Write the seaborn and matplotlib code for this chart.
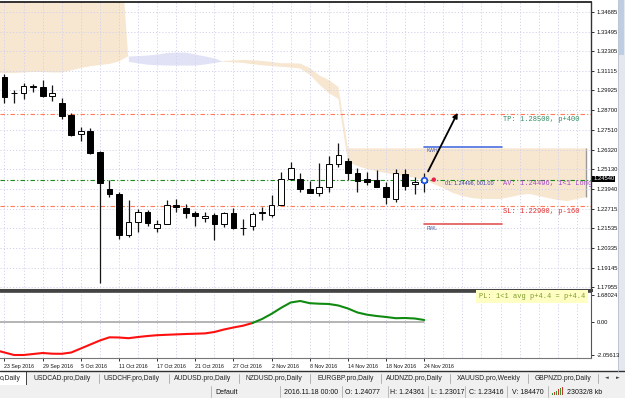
import numpy as np
import pandas as pd
import matplotlib.pyplot as plt
import matplotlib.transforms as mtransforms
from matplotlib.patches import Rectangle
import seaborn as sns

# GBPUSD daily candles, bar 0 = 23 Sep 2016, last bar = 24 Nov 2016
opens = [1.3075, 1.2974, 1.2974, 1.3015, 1.3015, 1.2960, 1.2914, 1.2843, 1.2725, 1.2745,
         1.2616, 1.2393, 1.2363, 1.2113, 1.2191, 1.2255, 1.2154, 1.2178, 1.2296, 1.2279,
         1.2249, 1.2215, 1.2235, 1.2178, 1.2245, 1.2157, 1.2170, 1.2247, 1.2235, 1.2296,
         1.2454, 1.2452, 1.2391, 1.2370, 1.2403, 1.2545, 1.2565, 1.2488, 1.2452, 1.2448,
         1.24077, 1.2332, 1.2484, 1.2421, 1.2437]
highs = [1.3092, 1.2995, 1.3037, 1.3029, 1.3055, 1.3025, 1.2948, 1.2857, 1.2771, 1.2762,
         1.2624, 1.2448, 1.2376, 1.2326, 1.2271, 1.2265, 1.2205, 1.2326, 1.2332, 1.2300,
         1.2261, 1.2251, 1.2249, 1.2255, 1.2276, 1.2209, 1.2255, 1.2285, 1.2356, 1.2498,
         1.2559, 1.2488, 1.2443, 1.2549, 1.2593, 1.2671, 1.2579, 1.2519, 1.2498, 1.2508,
         1.24361, 1.2513, 1.2513, 1.2468, 1.2488]
lows = [1.2917, 1.2917, 1.2938, 1.2984, 1.2954, 1.2929, 1.2818, 1.2717, 1.2686, 1.2604,
        1.1823, 1.2346, 1.2087, 1.2103, 1.2130, 1.2168, 1.2133, 1.2178, 1.2255, 1.2215,
        1.2168, 1.2194, 1.2083, 1.2160, 1.2148, 1.2113, 1.2144, 1.2205, 1.2221, 1.2296,
        1.2448, 1.2376, 1.2367, 1.2352, 1.2376, 1.2525, 1.2448, 1.2376, 1.2417, 1.2407,
        1.23017, 1.2312, 1.2387, 1.2362, 1.2376]
closes = [1.2954, 1.2976, 1.3021, 1.3019, 1.2960, 1.2974, 1.2838, 1.2721, 1.2745, 1.2613,
          1.2428, 1.2361, 1.2113, 1.2194, 1.2251, 1.2184, 1.2178, 1.2296, 1.2282, 1.2249,
          1.2231, 1.2231, 1.2178, 1.2245, 1.2154, 1.2154, 1.2241, 1.2251, 1.2296, 1.2454,
          1.2519, 1.2391, 1.2370, 1.2403, 1.2545, 1.2600, 1.2488, 1.2443, 1.2437, 1.2407,
          1.23416, 1.2488, 1.2413, 1.2437, 1.2454]

date_labels = ["23 Sep 2016", "29 Sep 2016", "5 Oct 2016", "11 Oct 2016", "17 Oct 2016",
               "21 Oct 2016", "27 Oct 2016", "2 Nov 2016", "8 Nov 2016", "14 Nov 2016",
               "18 Nov 2016", "24 Nov 2016"]
price_ticks = [1.34685, 1.33495, 1.32305, 1.31115, 1.29925, 1.28700, 1.27510, 1.26320,
               1.25130, 1.23940, 1.22715, 1.21535, 1.20335, 1.19145, 1.17955]

# cloud spans, one value per bar from -1 to 61
span_a = ([1.40] * 14 +
          [1.3168, 1.3159, 1.3151, 1.3148, 1.3146, 1.3146, 1.3146, 1.3146, 1.3153, 1.3162] +
          [1.3171, 1.3174, 1.3177, 1.3175, 1.3171, 1.3165, 1.3157, 1.3157, 1.3155, 1.3128,
           1.3083, 1.3055, 1.3013] +
          [1.2640] * 26)
span_b = ([1.3098, 1.3098, 1.3098, 1.3101, 1.3104, 1.3104, 1.3101, 1.3101, 1.3114, 1.3128,
           1.3139, 1.3146, 1.3153, 1.3168] +
          [1.3201, 1.3204, 1.3207, 1.3213, 1.3222, 1.3225, 1.3224, 1.3213, 1.3201, 1.3189] +
          [1.3166, 1.3163, 1.3159, 1.3151, 1.3145, 1.3140, 1.3136, 1.3131, 1.3125, 1.3088,
           1.3028, 1.2976, 1.2940] +
          [1.2557, 1.2533, 1.2514, 1.2502, 1.2490, 1.2478, 1.2472, 1.2460, 1.2448, 1.2423,
           1.2399, 1.2369, 1.2350, 1.2338, 1.2332, 1.2332, 1.2332, 1.2344, 1.2356, 1.2363,
           1.2350, 1.2338, 1.2326, 1.2320, 1.2332, 1.2344])

# oscillator in the lower window, bars -1 .. 44
osc = [-1.743, -1.899, -2.055, -2.055, -1.993, -1.930, -1.974, -1.980, -1.899, -1.650,
       -1.401, -1.152, -0.953, -0.965, -1.009, -0.934, -0.872, -0.822, -0.797, -0.772,
       -0.747, -0.729, -0.710, -0.623, -0.467, -0.342, -0.230, -0.062, 0.187, 0.511,
       0.884, 1.214, 1.308, 1.171, 1.139, 1.121, 1.027, 0.841, 0.592, 0.455,
       0.374, 0.311, 0.237, 0.249, 0.218, 0.125]
osc_ticks = [1.68024, 0.0, -2.05613]
osc_tick_labels = ["1.68024", "0.00", "-2.05613"]

# trade objects
tp, sl, av, bid = 1.2850, 1.2290, 1.24496, 1.24540
kwh, rwl = 1.2650, 1.2180
level_bars = [44, 52.1]
entry_bar, mark_bar = 44, 45
arrow_from = (44.4, 1.2500)
arrow_to = (47.5, 1.2856)

sns.set_style("white")
plt.rcParams['font.family'] = ['Liberation Sans', 'DejaVu Sans']

W, H = 625, 398
fig = plt.figure(figsize=(W / 100, H / 100), dpi=100)
fig.patch.set_facecolor('white')

# window chrome in pixel coordinates
bg = fig.add_axes([0, 0, 1, 1])
bg.set_xlim(0, W)
bg.set_ylim(H, 0)
bg.axis('off')
bg.add_patch(Rectangle((0, 371), W, 14, fc='#F0F0F0', ec='none'))
bg.plot([0, W], [371, 371], color='#303030', lw=1)
bg.add_patch(Rectangle((-1, 371), 27, 13.5, fc='white', ec='#404040', lw=0.7))
tabs = [("o,Daily", 0), ("USDCAD.pro,Daily", 33), ("USDCHF.pro,Daily", 104),
        ("AUDUSD.pro,Daily", 174), ("NZDUSD.pro,Daily", 246), ("EURGBP.pro,Daily", 317),
        ("AUDNZD.pro,Daily", 386), ("XAUUSD.pro,Weekly", 457), ("GBPNZD.pro,Daily", 535)]
for name, x in tabs:
    bg.text(x, 378.5, name, fontsize=4.9, color='#222222', va='center', ha='left')
for x in [99, 169, 239, 310, 380.5, 450, 528, 598]:
    bg.plot([x, x], [374, 383], color='#A8A8A8', lw=0.6)
bg.text(607, 378, "\u25c4", fontsize=3.5, color='#404040', ha='center', va='center',
        family='DejaVu Sans')
bg.text(618, 378, "\u25ba", fontsize=3.5, color='#404040', ha='center', va='center',
        family='DejaVu Sans')

bg.add_patch(Rectangle((0, 385), W, 13, fc='#F0F0F0', ec='none'))
status = [("Default", 215), ("2016.11.18 00:00", 284), ("O: 1.24077", 345),
          ("H: 1.24361", 390), ("L: 1.23017", 431), ("C: 1.23416", 469),
          ("V: 184470", 512), ("23032/8 kb", 567)]
for txt, x in status:
    bg.text(x, 392, txt, fontsize=5, color='#111111', va='center', ha='left')
for x in [211, 279.5, 341.5, 387.5, 427.5, 465, 507, 547.5]:
    bg.plot([x, x], [386, 397], color='#B0B0B0', lw=0.6)
for i in range(6):
    bg.add_patch(Rectangle((552 + 2 * i, 395 - 1.2 * i - 2), 1.4, 1.2 * i + 2,
                           fc=['#2E9E2E', '#D03030'][i % 2], ec='none'))

bg.add_patch(Rectangle((617.5, 0), 7.5, 371, fc='#E4E8EE', ec='none'))
bg.add_patch(Rectangle((618.5, 0), 5.5, 55, fc='#BCCDE4', ec='none'))
bg.plot([617.5, 617.5], [0, 371], color='#B8C0CC', lw=0.6)

# main price window
ax = fig.add_axes([0, 1 - 289.5 / H, 591 / W, 288 / H])
ax.set_facecolor('white')
xlim = (-0.47, 61.48)
ax.set_xlim(*xlim)
ax.set_ylim(1.17821, 1.35323)

cb = np.arange(-1, 62)
a = np.array(span_a)
b = np.array(span_b)
ax.fill_between(cb, a, b, where=a >= b, interpolate=True, color='#F7E6D0', lw=0, zorder=0.2)
ax.fill_between(cb, a, b, where=a < b, interpolate=True, color='#E2E2F7', lw=0, zorder=0.2)
ax.vlines(cb[-1], b[-1], a[-1], color='#9A9A9A', lw=1.0, zorder=0.3)

grid_kw = dict(color='#D2D2EE', lw=0.7, ls=(0, (1.2, 2)))
ax.set_axisbelow(True)
ax.set_xticks(np.arange(0, 62, 2))
ax.set_yticks(price_ticks)
ax.grid(True, **grid_kw)

dd = (0, (4, 2, 1, 2))
ax.axhline(tp, color='#FF7A55', lw=0.8, ls=dd, zorder=1)
ax.axhline(sl, color='#FF7A55', lw=0.8, ls=dd, zorder=1)
ax.axhline(av, color='#1E8A1E', lw=0.8, ls=dd, zorder=1)

df = pd.DataFrame({'o': opens, 'h': highs, 'l': lows, 'c': closes})
df['bar'] = np.arange(len(df))
up = df.c >= df.o
ax.vlines(df.bar, df.l, df.h, color='#151515', lw=0.9, zorder=3)
ax.bar(df.bar, (df.c - df.o).abs(), bottom=np.minimum(df.o, df.c), width=0.6,
       color=np.where(up, 'white', 'black'), edgecolor='black', lw=0.7, zorder=4)

ax.plot(level_bars, [kwh, kwh], color='#4A6EE0', lw=1.2, zorder=5)
ax.plot(level_bars, [rwl, rwl], color='#E05555', lw=1.2, zorder=5)
ax.annotate("KWH", xy=(level_bars[0] + 0.2, kwh), xytext=(0, -1.2), textcoords='offset points',
            fontsize=3.6, color='#5060A0', va='top', ha='left')
ax.annotate("RWL", xy=(level_bars[0] + 0.2, rwl), xytext=(0, -1.2), textcoords='offset points',
            fontsize=3.6, color='#5060A0', va='top', ha='left')

ax.annotate('', xy=arrow_to, xytext=arrow_from,
            arrowprops=dict(arrowstyle='-|>', color='black', lw=1.3, mutation_scale=7,
                            shrinkA=0, shrinkB=0), zorder=6)
sns.scatterplot(x=[entry_bar], y=[av], s=16, facecolor='white', edgecolor='#1F55E8',
                linewidth=1.3, zorder=7, ax=ax)
sns.scatterplot(x=[mark_bar], y=[av], s=10, color='#E8204A', edgecolor='none', zorder=7, ax=ax)

blend = mtransforms.blended_transform_factory(ax.transAxes, ax.transData)
mono = dict(family='Liberation Mono', fontsize=5.0, va='top', ha='left')
ax.annotate("TP: 1.28500, p+400", xy=(0.851, tp), xycoords=blend, xytext=(0, -1.6),
            textcoords='offset points', color='#2E8B60', **mono)
ax.annotate("SL: 1.22900, p-160", xy=(0.851, sl), xycoords=blend, xytext=(0, -1.6),
            textcoords='offset points', color='#E02828', **mono)
ax.annotate("AV: 1.24496, 1<1 Long", xy=(0.851, av), xycoords=blend, xytext=(0, -0.6),
            textcoords='offset points', color='#A848C8', clip_on=True, **mono)
ax.annotate("01: 1.24496, 001.00", xy=(0.753, av), xycoords=blend, xytext=(0, -0.8),
            textcoords='offset points', color='#3A3AA8', fontsize=3.9, va='top', ha='left')

ax.yaxis.tick_right()
ax.set_yticklabels([f"{p:.5f}" for p in price_ticks])
ax.tick_params(axis='y', right=True, length=2.5, width=0.6, pad=1.3, labelsize=4.2,
               colors='#111111')
ax.tick_params(axis='x', length=0, labelbottom=False)
ax.text(1.004, bid, f"{bid:.5f}", transform=blend, fontsize=4.2, color='white',
        va='center', ha='left', bbox=dict(boxstyle='square,pad=0.15', fc='black', ec='none'))
ax.spines['left'].set_visible(False)
ax.spines['top'].set(color='#222222', lw=1.3)
ax.spines['right'].set(color='#333333', lw=1.0)
ax.spines['bottom'].set(color='#444444', lw=2.2)

# oscillator window
ax2 = fig.add_axes([0, 1 - 358 / H, 591 / W, 66 / H])
ax2.set_xlim(*xlim)
ax2.set_ylim(-2.2416, 1.868)
ob = np.arange(-1, len(osc) - 1)
odf = pd.DataFrame({'bar': ob, 'value': osc})
ax2.plot(ob, np.zeros(len(ob)), color='#A8A8A8', lw=1.2, zorder=2)
sns.lineplot(data=odf[odf.bar <= 26], x='bar', y='value', color='#FF1010', lw=1.5, ax=ax2, zorder=3)
sns.lineplot(data=odf[odf.bar >= 26], x='bar', y='value', color='#108A10', lw=1.5, ax=ax2, zorder=3)
ax2.set_xlabel('')
ax2.set_ylabel('')
ax2.set_xticks(np.arange(0, 45, 4))
ax2.set_xticklabels(date_labels, ha='left')
ax2.set_xticks(np.arange(0, 62, 2), minor=True)
ax2.set_axisbelow(True)
ax2.grid(True, axis='x', which='both', **grid_kw)
ax2.tick_params(axis='x', which='major', length=2.5, width=0.6, pad=1.5, labelsize=3.8,
                colors='#111111', direction='out', bottom=True)
ax2.tick_params(axis='x', which='minor', length=0)
ax2.yaxis.tick_right()
ax2.set_yticks(osc_ticks)
ax2.set_yticklabels(osc_tick_labels)
ax2.tick_params(axis='y', right=True, length=2.5, width=0.6, pad=1.3, labelsize=4.2,
                colors='#111111')
ax2.text(0.99, 0.985, "PL: 1<1 avg p+4.4 = p+4.4", transform=ax2.transAxes,
         family='Liberation Mono', fontsize=5.0, color='#7C9A28', ha='right', va='top',
         bbox=dict(boxstyle='square,pad=0.45', fc='#FFFFC4', ec='none'), zorder=6)
ax2.spines['left'].set_visible(False)
ax2.spines['top'].set(color='#444444', lw=1.2)
ax2.spines['right'].set(color='#555555', lw=0.8)
ax2.spines['bottom'].set(color='#777777', lw=0.8)

fig.savefig('out.png', dpi=100)
